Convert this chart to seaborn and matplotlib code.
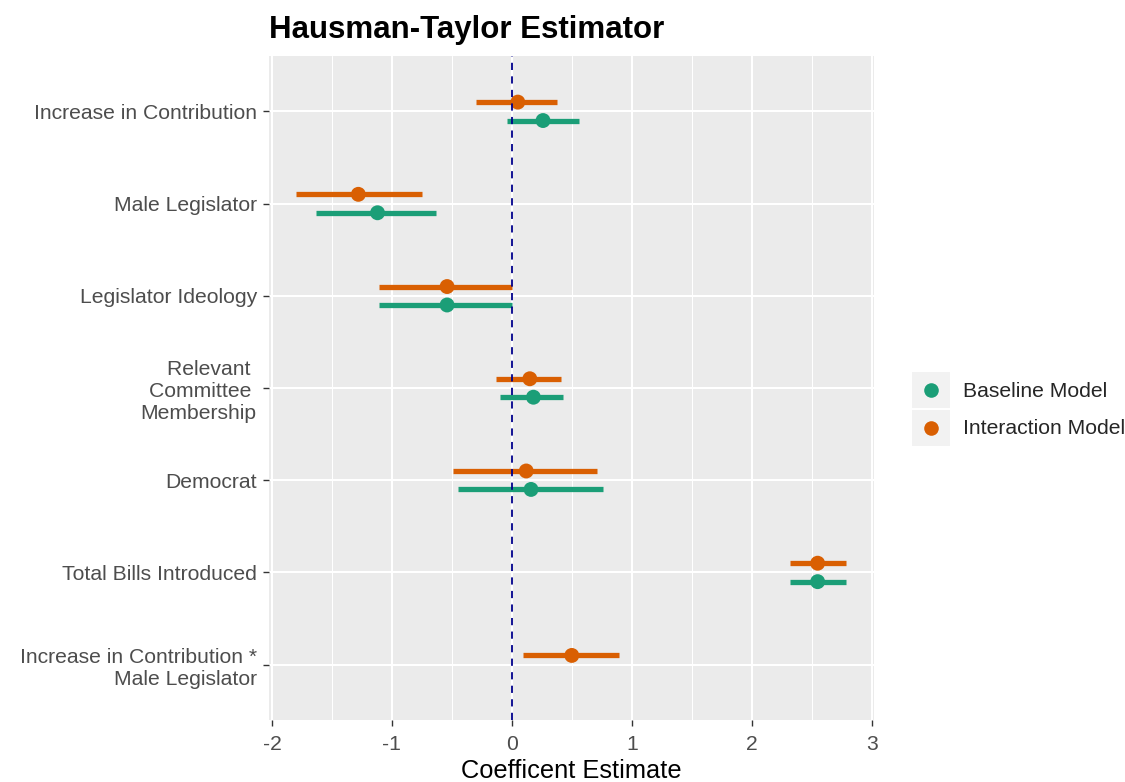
import matplotlib
matplotlib.use("Agg")
import matplotlib.pyplot as plt
from matplotlib.patches import Rectangle
from matplotlib.lines import Line2D
from matplotlib.legend_handler import HandlerTuple, HandlerLine2D
from matplotlib.ticker import MultipleLocator
import numpy as np
import pandas as pd
import seaborn as sns

# Coefficient estimates with 95% intervals (Hausman-Taylor models)
terms = [
    "Increase in Contribution",
    "Male Legislator",
    "Legislator Ideology",
    "Relevant \nCommittee \nMembership",
    "Democrat",
    "Total Bills Introduced",
    "Increase in Contribution *\nMale Legislator",
]
models = ["Baseline Model", "Interaction Model"]

baseline_est = [0.26, -1.12, -0.54, 0.18, 0.16, 2.55]
baseline_lo = [-0.04, -1.63, -1.11, -0.10, -0.45, 2.32]
baseline_hi = [0.56, -0.63, 0.00, 0.43, 0.76, 2.79]

interaction_est = [0.05, -1.28, -0.54, 0.15, 0.12, 2.55, 0.50]
interaction_lo = [-0.30, -1.80, -1.11, -0.13, -0.49, 2.32, 0.09]
interaction_hi = [0.38, -0.75, 0.00, 0.41, 0.71, 2.79, 0.89]

palette = {"Baseline Model": "#1B9E77", "Interaction Model": "#D95F02"}

rows = []
for i, (e, lo, hi) in enumerate(zip(baseline_est, baseline_lo, baseline_hi)):
    rows.append(dict(term=terms[i], model=models[0], est=e, lo=lo, hi=hi))
for i, (e, lo, hi) in enumerate(zip(interaction_est, interaction_lo, interaction_hi)):
    rows.append(dict(term=terms[i], model=models[1], est=e, lo=lo, hi=hi))
df = pd.DataFrame(rows)

# dodge the two models around each term's position
term_pos = {t: i for i, t in enumerate(terms)}
dodge = {"Baseline Model": 0.1, "Interaction Model": -0.1}
df["ypos"] = df["term"].map(term_pos) + df["model"].map(dodge)

sns.set_theme(style="darkgrid", rc={
    "axes.facecolor": "#EBEBEB",
    "grid.color": "white",
    "axes.edgecolor": "none",
})
plt.rcParams["font.family"] = ["Liberation Sans", "DejaVu Sans"]

fig = plt.figure(figsize=(11.25, 7.82), dpi=100)
ax = fig.add_axes([0.2391, 0.0793, 0.7769 - 0.2391, 0.9284 - 0.0793])

for model, sub in df.groupby("model"):
    ax.hlines(sub["ypos"], sub["lo"], sub["hi"], color=palette[model],
              linewidth=3.8, zorder=3)

sns.scatterplot(data=df, x="est", y="ypos", hue="model", palette=palette,
                hue_order=models, s=115, linewidth=0, legend=False,
                ax=ax, zorder=4)

ax.axvline(0, color="#00008B", linestyle=(0, (4, 3.5)), linewidth=1.3, zorder=5)

ax.set_xlim(-2.025, 3.02)
ax.set_ylim(len(terms) - 1 + 0.6, -0.6)
ax.xaxis.set_minor_locator(MultipleLocator(0.5))
ax.set_xticks(np.arange(-2, 4, 1))
ax.set_xticklabels([str(v) for v in range(-2, 4)])
ax.set_yticks(range(len(terms)))
ax.set_yticklabels(terms, linespacing=1.22)

ax.grid(which="major", color="white", linewidth=1.5)
ax.grid(which="minor", axis="x", color="white", linewidth=0.75)
ax.set_axisbelow(True)

ax.tick_params(axis="both", which="major", length=4.3, width=1.0,
               color="#333333", labelcolor="#4D4D4D", labelsize=15.2)
ax.tick_params(axis="y", pad=4.5)
ax.tick_params(axis="x", pad=6.5)
ax.tick_params(which="minor", length=0)
ax.tick_params(left=True, bottom=True)

ax.set_ylabel("")
ax.set_xlabel("Coefficent Estimate", fontsize=18.3, color="black", labelpad=3.5)
ax.set_title("Hausman-Taylor Estimator", fontsize=22.5, fontweight="bold",
             loc="left", pad=13, color="black")


class CenteredDot(HandlerLine2D):
    """Legend marker placed in the vertical middle of the key box."""

    def create_artists(self, legend, orig_handle, xdescent, ydescent,
                       width, height, fontsize, trans):
        artists = super().create_artists(legend, orig_handle, xdescent, ydescent,
                                         width, height, fontsize, trans)
        for a in artists:
            a.set_ydata([height / 2 - ydescent] * len(a.get_ydata()))
        return artists


handles = []
for m in models:
    box = Rectangle((0, 0), 1, 1, facecolor="#F2F2F2", edgecolor="none")
    dot = Line2D([], [], marker="o", linestyle="none", color=palette[m],
                 markersize=10.5, markeredgewidth=0)
    handles.append((box, dot))

fig.legend(handles, models,
           handler_map={tuple: HandlerTuple(ndivide=1, pad=0),
                        Line2D: CenteredDot(numpoints=1)},
           loc="upper left", bbox_to_anchor=(912 / 1125, 1 - 372 / 782),
           bbox_transform=fig.transFigure, frameon=False, fontsize=15.2,
           handlelength=1.8, handleheight=2.25, labelspacing=0.08,
           handletextpad=0.6, borderpad=0, borderaxespad=0)

fig.savefig("out.png", dpi=100)
